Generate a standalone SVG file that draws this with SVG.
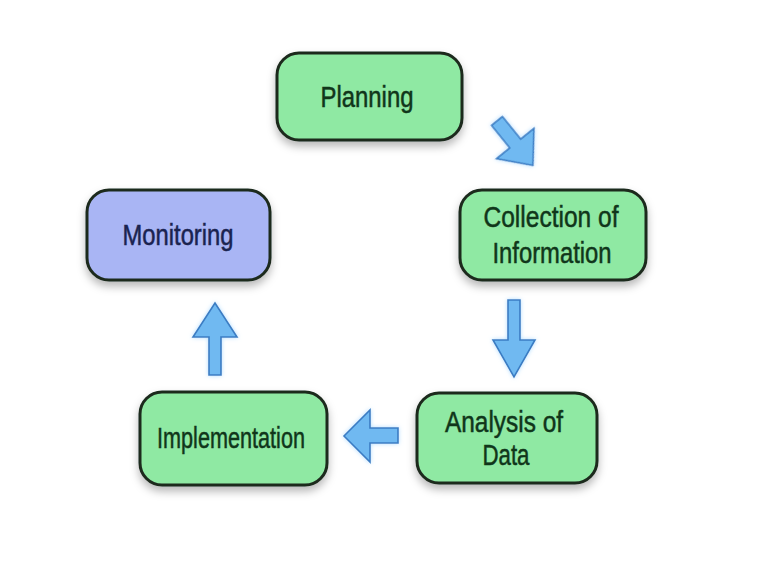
<svg xmlns="http://www.w3.org/2000/svg" width="766" height="561" viewBox="0 0 766 561">
  <defs>
    <filter id="sh" x="-20%" y="-20%" width="140%" height="150%">
      <feDropShadow dx="0" dy="5" stdDeviation="4" flood-color="#000" flood-opacity="0.28"/>
    </filter>
    <filter id="glow" x="-30%" y="-30%" width="160%" height="160%">
      <feDropShadow dx="0" dy="0" stdDeviation="2" flood-color="#9fd4ff" flood-opacity="0.8"/>
    </filter>
  </defs>
  <style>
    .box { stroke: #1d2a1f; stroke-width: 3; filter: url(#sh); }
    .g { fill: #8fe9a3; }
    .b { fill: #a9b5f4; }
    .t { font-family: "Liberation Sans", Arial, sans-serif; font-size: 29px; text-anchor: middle; fill: #10361a; stroke: #10361a; stroke-width: 0.5; }
    .tb { fill: #1a2350; stroke: #1a2350; }
    .arr { fill: #6fb9f1; stroke: #3a7cc3; stroke-width: 1.6; stroke-linejoin: miter; filter: url(#glow); }
  </style>
  <rect width="766" height="561" fill="#ffffff"/>

  <g id="planning">
    <rect class="box g" x="277" y="53" width="185" height="87" rx="22"/>
    <text class="t" x="367" y="107" textLength="93" lengthAdjust="spacingAndGlyphs">Planning</text>
  </g>
  <g id="collection">
    <rect class="box g" x="460" y="190" width="186" height="90" rx="22"/>
    <text class="t" x="551" y="227" textLength="135" lengthAdjust="spacingAndGlyphs">Collection of</text>
    <text class="t" x="552" y="263" textLength="119" lengthAdjust="spacingAndGlyphs">Information</text>
  </g>
  <g id="monitoring">
    <rect class="box b" x="87" y="190" width="183" height="90" rx="22"/>
    <text class="t tb" x="178" y="245" textLength="111" lengthAdjust="spacingAndGlyphs">Monitoring</text>
  </g>
  <g id="implementation">
    <rect class="box g" x="140" y="392" width="187" height="93" rx="22"/>
    <text class="t" x="231" y="448" textLength="148" lengthAdjust="spacingAndGlyphs">Implementation</text>
  </g>
  <g id="analysis">
    <rect class="box g" x="417" y="393" width="180" height="90" rx="22"/>
    <text class="t" x="504" y="432" textLength="118" lengthAdjust="spacingAndGlyphs">Analysis of</text>
    <text class="t" x="506" y="465" textLength="47" lengthAdjust="spacingAndGlyphs">Data</text>
  </g>

  <g id="connectors">
    <path class="arr" transform="translate(497,121) rotate(51)" d="M0,-7 L29,-7 L29,-24 L57,0 L29,24 L29,7 L0,7 Z"/>
    <path class="arr" d="M508,300 L520,300 L520,340 L535,340 L514,377 L493,340 L508,340 Z"/>
    <path class="arr" d="M398,428 L370,428 L370,410 L344,436 L370,462 L370,443 L398,443 Z"/>
    <path class="arr" d="M209,375 L221,375 L221,337 L237,337 L215,303 L193,337 L209,337 Z"/>
  </g>
</svg>
